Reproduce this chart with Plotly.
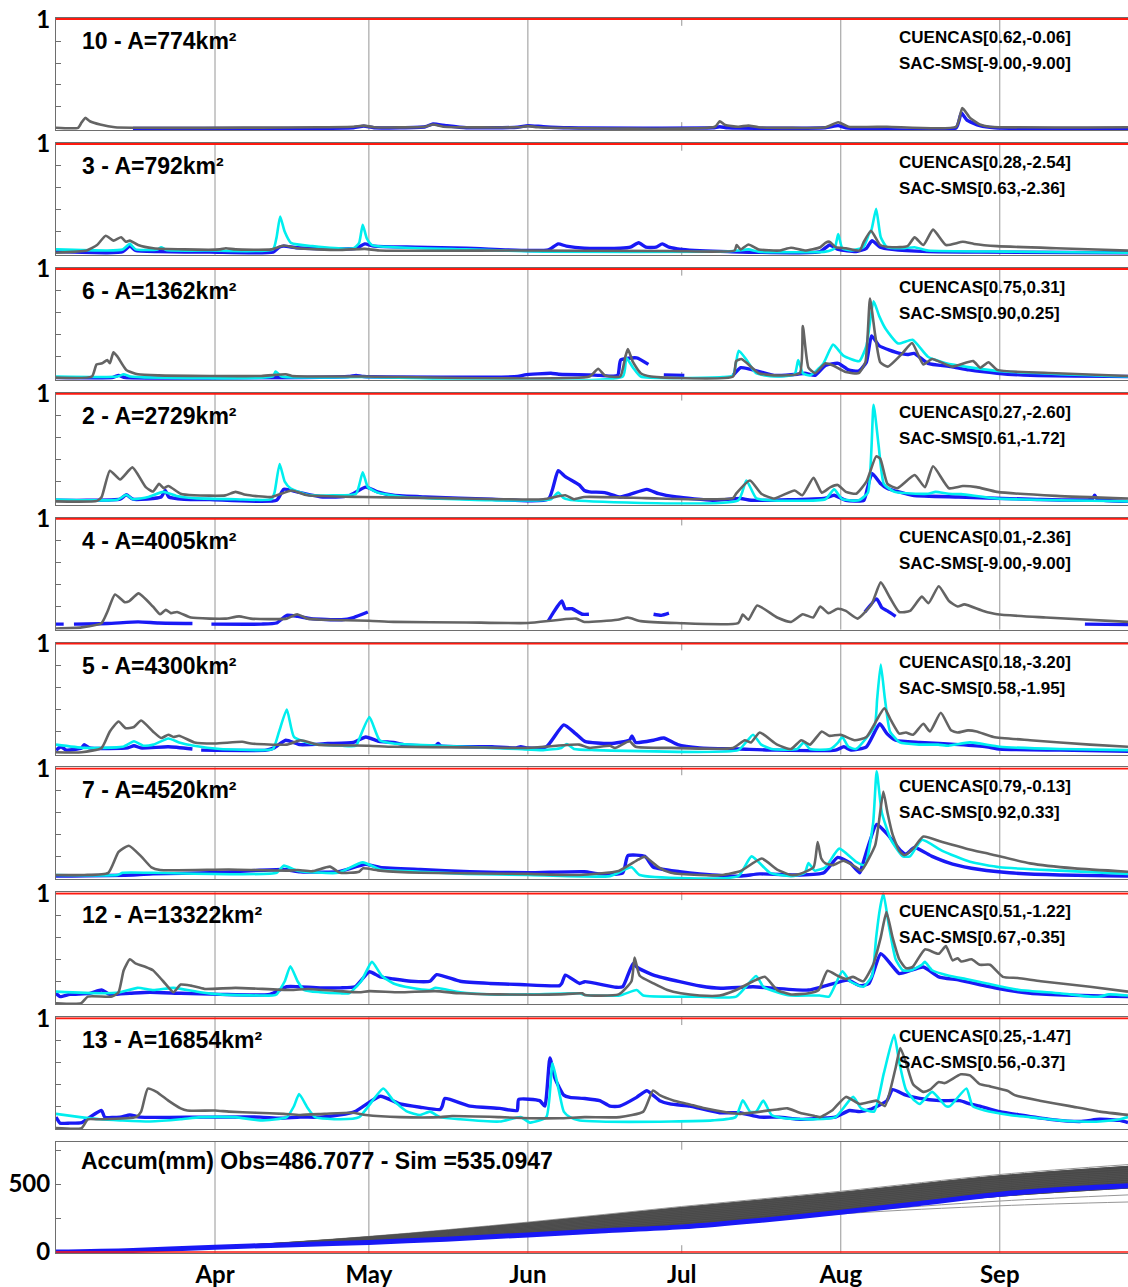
import pandas as pd
import plotly.graph_objects as go

# ---------------------------------------------------------------------------
# Data: normalised streamflow per basin; each series is (day since 1 March, value)
# None values mark gaps in the observed record.
# ---------------------------------------------------------------------------
START = pd.Timestamp("2010-03-01")
END_DAY = 209

STATIONS = [10, 3, 6, 2, 4, 5, 7, 12, 13]
AREAS_KM2 = [774, 792, 1362, 2729, 4005, 4300, 4520, 13322, 16854]
CUENCAS_SCORES = ["0.62,-0.06", "0.28,-2.54", "0.75,0.31", "0.27,-2.60", "0.01,-2.36",
                  "0.18,-3.20", "0.79,-0.13", "0.51,-1.22", "0.25,-1.47"]
SAC_SCORES = ["-9.00,-9.00", "0.63,-2.36", "0.90,0.25", "0.61,-1.72", "-9.00,-9.00",
              "0.58,-1.95", "0.92,0.33", "0.67,-0.35", "0.56,-0.37"]

MONTH_DAYS = [31, 61, 92, 122, 153, 184]
MONTH_LABELS = ["Apr", "May", "Jun", "Jul", "Aug", "Sep"]

# --- station 10 ---
GRAY_10 = [(0, 0.01), (4.3, 0.01), (5.0, 0.06), (5.7, 0.10), (6.6, 0.07), (8.6, 0.04), (11.5, 0.015),
           (40, 0.012), (51, 0.015), (58, 0.02), (60, 0.03), (62, 0.015), (72, 0.02), (73.5, 0.04),
           (75.5, 0.02), (90, 0.015), (92, 0.025), (94, 0.015), (128.5, 0.02), (129.4, 0.07),
           (130.5, 0.035), (133, 0.02), (135, 0.03), (137, 0.015), (150, 0.015), (152.5, 0.06),
           (154.5, 0.02), (162, 0.02), (175.5, 0.02), (176.7, 0.19), (178.2, 0.10), (180.1, 0.04),
           (182, 0.02), (209, 0.015)]
BLUE_10 = [(15, 0.005), (40, 0.005), (58, 0.01), (60, 0.025), (62, 0.01), (72, 0.02), (73.5, 0.045),
           (76, 0.03), (80, 0.01), (90, 0.015), (92, 0.03), (95, 0.02), (100, 0.01), (128, 0.01),
           (129.4, 0.02), (131, 0.01), (150, 0.01), (152.5, 0.03), (154, 0.01), (175.5, 0.01),
           (176.5, 0.145), (177.6, 0.08), (180.1, 0.03), (183, 0.01), (209, 0.005)]

# --- station 3 ---
GRAY_3 = [(0, 0.01), (6, 0.03), (8, 0.08), (9.7, 0.165), (11.2, 0.12), (12.7, 0.15), (13.6, 0.11),
          (14.4, 0.12), (16, 0.08), (19, 0.05), (25, 0.04), (32, 0.04), (33.1, 0.05), (35, 0.04),
          (42, 0.04), (44.4, 0.075), (47, 0.05), (55, 0.035), (60.2, 0.045), (63, 0.03), (90, 0.03),
          (120, 0.025), (132.3, 0.03), (132.7, 0.08), (133.5, 0.04), (135, 0.085), (137, 0.04),
          (141, 0.03), (143.3, 0.055), (146, 0.03), (149, 0.06), (150, 0.10), (150.8, 0.11),
          (152, 0.06), (154, 0.05), (156.7, 0.03), (157.4, 0.10), (158.9, 0.21), (160.7, 0.08),
          (163, 0.06), (166, 0.07), (167.4, 0.15), (169.1, 0.08), (171, 0.22), (173.5, 0.08),
          (176.8, 0.11), (179, 0.09), (183.5, 0.07), (195, 0.05), (209, 0.03)]
CYAN_3 = [(0, 0.04), (10, 0.03), (13, 0.04), (14.4, 0.09), (15.5, 0.04), (19.8, 0.04), (20.5, 0.06),
          (21.5, 0.035), (30, 0.03), (42.3, 0.04), (43.0, 0.15), (43.7, 0.34), (44.6, 0.2),
          (45.8, 0.10), (50, 0.07), (58, 0.05), (59.1, 0.10), (59.8, 0.265), (60.6, 0.14),
          (61.6, 0.08), (66, 0.06), (80, 0.04), (95, 0.02), (130, 0.02), (133, 0.03), (135, 0.04),
          (137, 0.02), (150, 0.02), (151.8, 0.05), (152.5, 0.18), (153.3, 0.05), (155, 0.03),
          (157.4, 0.06), (158.5, 0.18), (159, 0.22), (159.9, 0.41), (160.8, 0.15), (162, 0.06),
          (165, 0.05), (167.4, 0.06), (170, 0.03), (185, 0.02), (209, 0.01)]
BLUE_3 = [(0, 0.02), (10, 0.01), (13, 0.02), (14.4, 0.07), (15.5, 0.03), (20, 0.02), (30, 0.015),
          (42.3, 0.015), (43.5, 0.06), (44.4, 0.07), (47, 0.055), (55, 0.045), (58.5, 0.05),
          (60.2, 0.09), (62, 0.07), (70, 0.06), (80, 0.05), (92, 0.03), (96, 0.035), (97.9, 0.09),
          (99.5, 0.07), (103, 0.05), (110, 0.05), (112, 0.06), (113.6, 0.1), (115, 0.06), (117, 0.06),
          (118.2, 0.09), (119.5, 0.06), (122, 0.04), (131, 0.02), (149, 0.02), (150.8, 0.08),
          (152.5, 0.04), (156, 0.02), (158, 0.05), (159.1, 0.12), (160.7, 0.06), (163, 0.04),
          (170, 0.02), (180, 0.015), (209, 0.01)]

# --- station 6 ---
GRAY_6 = [(0, 0.01), (7, 0.02), (7.9, 0.13), (9, 0.14), (10, 0.17), (10.5, 0.14), (11.2, 0.24),
          (12, 0.2), (13.7, 0.08), (16, 0.04), (20, 0.03), (40, 0.025), (44.8, 0.04), (46, 0.025),
          (60, 0.02), (104, 0.02), (105.7, 0.09), (107, 0.03), (110, 0.02), (111, 0.2), (111.5, 0.27),
          (112.5, 0.15), (114, 0.05), (116, 0.02), (132, 0.02), (132.6, 0.16), (133.6, 0.18),
          (135, 0.13), (137, 0.05), (140, 0.03), (145, 0.05), (145.6, 0.48), (146.7, 0.1), (148, 0.05),
          (150, 0.14), (151.5, 0.12), (154, 0.06), (156.5, 0.05), (157.8, 0.15), (158.7, 0.73),
          (159.7, 0.4), (160.7, 0.15), (162.2, 0.11), (165, 0.23), (166.9, 0.325), (169.1, 0.13),
          (170.8, 0.18), (174.7, 0.11), (178.8, 0.16), (180.2, 0.1), (181.8, 0.15), (183.5, 0.08),
          (195, 0.05), (209, 0.025)]
CYAN_6 = [(0, 0.02), (12, 0.02), (13.2, 0.04), (14.5, 0.02), (42.3, 0.02), (42.8, 0.065), (44, 0.02),
          (60, 0.015), (110.5, 0.02), (111.2, 0.19), (112.5, 0.1), (114, 0.02), (130, 0.015),
          (132, 0.03), (133.1, 0.255), (134.5, 0.18), (136.5, 0.05), (140, 0.02), (144, 0.04),
          (144.7, 0.17), (145.6, 0.05), (147, 0.03), (149.5, 0.13), (151.5, 0.31), (153.5, 0.21),
          (156.6, 0.16), (158, 0.3), (159.4, 0.705), (160.5, 0.57), (161.8, 0.45), (164.2, 0.32),
          (167, 0.355), (170, 0.2), (173.5, 0.14), (183.5, 0.07), (209, 0.02)]
BLUE_6 = [(0, 0.01), (11, 0.01), (12.2, 0.03), (13.5, 0.01), (57, 0.02), (58.5, 0.03), (60, 0.02),
          (90, 0.02), (91.4, 0.035), (96.5, 0.05), (98, 0.04), (104, 0.035), (106, 0.03),
          (109.5, 0.03), (110.1, 0.17), (113.2, 0.19), (115.5, 0.13), (116, None), (118.5, 0.035),
          (122.5, 0.03), (127, None), (132, 0.03), (133.5, 0.1), (135, 0.09), (137.5, 0.06),
          (140, 0.03), (144.5, 0.04), (146, 0.05), (148, 0.03), (150, 0.12), (152.5, 0.14),
          (154.5, 0.08), (156.5, 0.07), (158, 0.15), (159, 0.39), (160.5, 0.3), (162.5, 0.26),
          (164.5, 0.23), (166, 0.22), (167.3, 0.23), (170, 0.14), (174.5, 0.11), (178, 0.08),
          (183.5, 0.05), (190, 0.03), (209, 0.02)]

# --- station 2 ---
GRAY_2 = [(0, 0.02), (8, 0.025), (8.9, 0.06), (10.5, 0.30), (12.5, 0.22), (14.9, 0.33), (17.5, 0.15),
          (18.9, 0.11), (20.1, 0.18), (21, 0.14), (21.9, 0.16), (24.3, 0.09), (26.9, 0.076),
          (33, 0.075), (35, 0.107), (37, 0.08), (42, 0.06), (46, 0.12), (49, 0.076), (60, 0.06),
          (75, 0.05), (95, 0.04), (99.3, 0.076), (101, 0.04), (103, 0.06), (115, 0.05), (125, 0.04),
          (132, 0.05), (132.6, 0.09), (135.3, 0.21), (137.5, 0.09), (140, 0.046), (144, 0.12),
          (145.5, 0.076), (147.7, 0.235), (149.3, 0.1), (151, 0.15), (152.4, 0.17), (154, 0.107),
          (156, 0.09), (158, 0.2), (159.9, 0.43), (160.7, 0.41), (162.1, 0.18), (164, 0.14),
          (167.4, 0.26), (169.4, 0.15), (171, 0.34), (174.1, 0.14), (176.8, 0.16), (179.5, 0.15),
          (183.5, 0.107), (195, 0.07), (209, 0.046)]
CYAN_2 = [(0, 0.037), (6, 0.03), (12, 0.035), (13.7, 0.08), (15, 0.04), (18, 0.06), (20.9, 0.107),
          (23.5, 0.07), (27, 0.05), (35, 0.04), (42, 0.04), (42.6, 0.1), (43.6, 0.36), (44.6, 0.2),
          (45.7, 0.14), (49, 0.08), (54, 0.076), (58.5, 0.09), (59.8, 0.285), (60.8, 0.15),
          (62.7, 0.1), (68, 0.06), (85, 0.03), (96.5, 0.04), (97.9, 0.1), (99, 0.05), (101, 0.03),
          (133, 0.03), (134.6, 0.21), (136.5, 0.05), (139, 0.03), (150, 0.04), (151.7, 0.13),
          (153.3, 0.04), (156.5, 0.03), (158.3, 0.1), (159.4, 0.9), (160.4, 0.52), (161.4, 0.18),
          (163.5, 0.107), (170, 0.09), (171.5, 0.107), (174, 0.09), (176.5, 0.086), (183.5, 0.046),
          (209, 0.02)]
BLUE_2 = [(0, 0.03), (6, 0.03), (12.5, 0.04), (13.7, 0.08), (15, 0.04), (20.5, 0.06), (21.3, 0.12),
          (22, 0.06), (25, 0.04), (30, 0.037), (43, 0.03), (44.4, 0.13), (47, 0.107), (52, 0.06),
          (57, 0.07), (60.4, 0.15), (62.7, 0.107), (65.8, 0.076), (72, 0.06), (85, 0.04), (96, 0.04),
          (97.9, 0.3), (99.3, 0.245), (102, 0.17), (103, 0.12), (104, 0.107), (107, 0.1), (110, 0.06),
          (115.2, 0.13), (117.5, 0.09), (121, 0.06), (128, 0.03), (133.5, 0.046), (135.5, 0.03),
          (150, 0.05), (151.7, 0.076), (154, 0.03), (157.5, 0.03), (158.2, 0.14), (159.1, 0.275),
          (160.8, 0.18), (162, 0.14), (167, 0.076), (176, 0.06), (190, 0.04), (202, 0.04),
          (202.5, 0.076), (203, 0.04), (209, 0.02)]

# --- station 4 ---
GRAY_4 = [(0, 0.0), (5, 0.01), (8.9, 0.05), (10, 0.15), (11.5, 0.31), (13.4, 0.24), (14.3, 0.25),
          (16.1, 0.32), (18.9, 0.2), (20.3, 0.13), (21.4, 0.17), (22.4, 0.14), (23.6, 0.15),
          (26.3, 0.1), (30, 0.09), (33, 0.09), (35.7, 0.11), (38, 0.09), (45, 0.09), (47, 0.13),
          (49, 0.09), (52, 0.08), (61, 0.07), (65.8, 0.06), (80, 0.055), (92, 0.05), (101.4, 0.09),
          (103, 0.06), (109.5, 0.08), (111.5, 0.1), (114, 0.067), (121, 0.05), (133, 0.05),
          (133.9, 0.127), (135, 0.08), (136.7, 0.21), (140.6, 0.1), (143.3, 0.06), (145.6, 0.13),
          (147.6, 0.1), (149, 0.2), (150.6, 0.14), (152.4, 0.18), (154, 0.16), (156.3, 0.09),
          (159, 0.22), (160.8, 0.42), (162.6, 0.28), (164.4, 0.15), (166.5, 0.16), (168.8, 0.29),
          (170.1, 0.23), (172.1, 0.385), (174.1, 0.25), (175.8, 0.2), (177.1, 0.22), (180.8, 0.16),
          (183.5, 0.13), (193, 0.1), (209, 0.06)]
BLUE_4 = [(0, 0.04), (1.5, 0.04), (2.5, None), (3.5, 0.04), (10, 0.045), (16, 0.06), (20, 0.05),
          (26.6, 0.045), (28, None), (30.3, 0.04), (40, 0.04), (43, 0.05), (45, 0.12), (47.1, 0.11),
          (49.7, 0.09), (55.7, 0.08), (58, 0.1), (60.8, 0.15), (70, None), (96, 0.07), (96.9, 0.14),
          (98.6, 0.25), (99.3, 0.18), (100.6, 0.18), (102.6, 0.13), (103.9, 0.13), (110, None),
          (116.5, 0.13), (118, 0.12), (119.5, 0.14), (130, None), (157.7, 0.15), (160, 0.27),
          (161, 0.19), (162.1, 0.16), (163.7, 0.11), (180, None), (200.6, 0.04), (209, 0.035)]

# --- station 5 ---
GRAY_5 = [(0, 0.01), (5, 0.01), (8.9, 0.05), (10.5, 0.2), (12.2, 0.29), (13.6, 0.23), (15.2, 0.24),
          (16.6, 0.30), (18.9, 0.2), (20.5, 0.14), (21.9, 0.17), (22.9, 0.15), (24, 0.16), (27, 0.1),
          (31, 0.09), (36.3, 0.106), (38, 0.09), (45, 0.08), (47.7, 0.12), (51, 0.08), (61, 0.07),
          (65.8, 0.06), (80, 0.055), (92, 0.05), (102, 0.08), (104, 0.05), (108, 0.07), (109, 0.05),
          (111.8, 0.11), (113, 0.06), (120, 0.05), (132, 0.05), (134.3, 0.12), (135.5, 0.1),
          (137.2, 0.19), (140.6, 0.08), (143.3, 0.04), (145.3, 0.12), (147, 0.08), (149.3, 0.2),
          (150.7, 0.16), (153, 0.17), (155.7, 0.12), (158, 0.15), (161.5, 0.41), (162.8, 0.3),
          (164.4, 0.18), (165.7, 0.19), (167.1, 0.17), (169.1, 0.27), (170.4, 0.2), (172.5, 0.37),
          (174.5, 0.21), (175.8, 0.19), (177.8, 0.21), (179.5, 0.2), (182.8, 0.15), (189.9, 0.12),
          (201.6, 0.08), (209, 0.06)]
CYAN_5 = [(0, 0.08), (5.5, 0.05), (13, 0.06), (15.2, 0.11), (17, 0.07), (19, 0.08), (21.9, 0.136),
          (24, 0.1), (26.9, 0.07), (32, 0.04), (40, 0.03), (42.3, 0.04), (43.5, 0.2), (45, 0.40),
          (46.4, 0.15), (49.7, 0.09), (55.8, 0.07), (58.5, 0.07), (59.1, 0.13), (61.1, 0.33),
          (63.1, 0.12), (65.8, 0.09), (75, 0.07), (90, 0.04), (95, 0.03), (98.5, 0.05),
          (99.6, 0.085), (101, 0.04), (105, 0.03), (133, 0.03), (134.5, 0.1), (135.9, 0.17),
          (137.5, 0.08), (139.5, 0.04), (144.5, 0.04), (145.8, 0.1), (147, 0.04), (151, 0.04),
          (152.5, 0.1), (153.3, 0.15), (154.5, 0.06), (156, 0.04), (159.6, 0.25), (160.1, 0.5),
          (160.8, 0.81), (161.6, 0.5), (162.6, 0.2), (164.5, 0.1), (168.4, 0.08), (172, 0.08),
          (174, 0.07), (178.2, 0.1), (184, 0.06), (195.7, 0.04), (209, 0.03)]
BLUE_5 = [(0, 0.03), (1, 0.06), (2, 0.03), (5, 0.05), (5.5, 0.08), (6.5, 0.05), (14, 0.05),
          (15.2, 0.07), (16.5, 0.05), (21.9, 0.06), (26.6, 0.04), (27.5, None), (28.3, 0.03),
          (41, 0.03), (42.5, 0.05), (44.8, 0.12), (47.6, 0.08), (53, 0.09), (58, 0.1), (60.4, 0.15),
          (63, 0.11), (65.8, 0.1), (67.8, 0.08), (74, 0.07), (74.5, 0.09), (75, 0.07), (85, 0.06),
          (89.5, 0.05), (90.6, 0.06), (92, 0.05), (95.6, 0.06), (99, 0.26), (101.3, 0.18),
          (103.1, 0.11), (108, 0.09), (111.8, 0.12), (112.3, 0.16), (113, 0.1), (116.5, 0.12),
          (118.5, 0.14), (121.2, 0.08), (125.5, 0.05), (133.3, 0.04), (140, 0.03), (152, 0.03),
          (153.6, 0.06), (155, 0.03), (158, 0.06), (160.6, 0.27), (162, 0.18), (163.7, 0.12),
          (168.4, 0.1), (176, 0.08), (181.4, 0.06), (184, 0.04), (195.7, 0.03), (209, 0.02)]

# --- station 7 ---
GRAY_7 = [(0, 0.03), (5.5, 0.03), (10.2, 0.05), (12.2, 0.24), (14.2, 0.297), (16.6, 0.2), (18.6, 0.1),
          (20.3, 0.076), (33.7, 0.08), (45, 0.07), (47.1, 0.075), (50, 0.065), (53.4, 0.106),
          (55.4, 0.05), (59.1, 0.06), (59.8, 0.09), (63.2, 0.07), (71, 0.05), (92, 0.04), (102, 0.03),
          (109.7, 0.067), (113.5, 0.17), (114.8, 0.197), (117.5, 0.1), (119.9, 0.05), (125.5, 0.03),
          (129.9, 0.03), (133.5, 0.067), (137.6, 0.18), (140.6, 0.08), (143.3, 0.03), (145, 0.04),
          (147.7, 0.1), (148.5, 0.33), (149.2, 0.18), (150, 0.136), (151.5, 0.12), (153.5, 0.16),
          (156, 0.1), (157, 0.07), (159.7, 0.3), (160.4, 0.5), (161.3, 0.79), (162.1, 0.6),
          (163.1, 0.4), (164.4, 0.25), (165.4, 0.21), (167.1, 0.27), (169.1, 0.38), (172.8, 0.33),
          (177.5, 0.27), (182.2, 0.22), (189.9, 0.136), (198.6, 0.09), (209, 0.06)]
CYAN_7 = [(0, 0.03), (12, 0.03), (13, 0.05), (18.9, 0.05), (43, 0.05), (44.4, 0.115), (47, 0.07),
          (55, 0.05), (59.8, 0.145), (63.2, 0.08), (71, 0.06), (80, 0.04), (92, 0.03), (108, 0.02),
          (112.2, 0.1), (113.8, 0.03), (133, 0.02), (135.6, 0.2), (139.2, 0.05), (143.3, 0.02),
          (146, 0.05), (146.7, 0.14), (147.9, 0.07), (150, 0.1), (152.7, 0.27), (156, 0.15),
          (157.7, 0.12), (159.3, 0.5), (160, 0.975), (161, 0.6), (162.8, 0.35), (165.1, 0.2),
          (166.5, 0.2), (168.8, 0.35), (172.8, 0.25), (178.2, 0.15), (184, 0.1), (195.7, 0.07),
          (209, 0.04)]
BLUE_7 = [(0, 0.02), (15, 0.03), (18.9, 0.04), (30, 0.05), (44.4, 0.08), (47.6, 0.06), (55, 0.06),
          (60.4, 0.127), (63.2, 0.1), (71, 0.08), (80.7, 0.06), (92, 0.05), (103, 0.06), (106, 0.04),
          (110.5, 0.05), (111.5, 0.206), (114.8, 0.2), (116.5, 0.1), (121.6, 0.06), (125.5, 0.04),
          (133.3, 0.02), (137.2, 0.04), (145, 0.03), (149.7, 0.05), (152.4, 0.19), (154.8, 0.14),
          (156.7, 0.05), (157.1, 0.1), (160, 0.49), (162.1, 0.4), (164.7, 0.25), (165.7, 0.22),
          (167.4, 0.28), (170.8, 0.2), (174.8, 0.13), (180.1, 0.08), (185.9, 0.05), (195.7, 0.03),
          (209, 0.02)]

# --- station 12 ---
GRAY_12 = [(0, 0.0), (4.9, 0.0), (6.2, 0.06), (10.9, 0.06), (12.2, 0.1), (13.2, 0.3), (14.4, 0.40),
           (15.6, 0.36), (17.5, 0.33), (18.9, 0.3), (20.9, 0.2), (22.9, 0.1), (24.3, 0.17),
           (26.3, 0.16), (29, 0.13), (35, 0.14), (45.7, 0.12), (49.1, 0.13), (55.4, 0.11),
           (59.1, 0.1), (61.1, 0.11), (67, 0.1), (73.9, 0.11), (78.8, 0.09), (86.5, 0.08),
           (98.2, 0.08), (102.6, 0.09), (103.1, 0.075), (109.7, 0.08), (112.2, 0.2), (112.8, 0.415),
           (113.8, 0.25), (116.5, 0.18), (119.2, 0.12), (121.8, 0.09), (125.5, 0.07), (129.4, 0.07),
           (132.6, 0.12), (135.9, 0.2), (138.2, 0.24), (140.6, 0.12), (143.3, 0.08), (146.7, 0.09),
           (148.7, 0.12), (150.4, 0.295), (152.4, 0.25), (154, 0.22), (155.4, 0.24), (157.4, 0.2),
           (159.3, 0.35), (160.8, 0.6), (161.9, 0.83), (163.1, 0.6), (164.4, 0.4), (165.7, 0.32),
           (167, 0.33), (169.4, 0.49), (172.1, 0.45), (173.5, 0.52), (174.8, 0.39), (175.8, 0.41),
           (176.5, 0.38), (178.5, 0.4), (180.1, 0.35), (182.1, 0.35), (184.6, 0.24), (187.5, 0.23),
           (192, 0.2), (201.6, 0.15), (209, 0.105)]
CYAN_12 = [(0, 0.105), (8.6, 0.09), (12.5, 0.1), (15.9, 0.14), (19, 0.12), (22.9, 0.14), (28.1, 0.1),
           (32, 0.08), (39.8, 0.07), (42.2, 0.07), (43, 0.08), (44.6, 0.2), (45.7, 0.337), (47.1, 0.2),
           (48.4, 0.12), (51.5, 0.1), (55.4, 0.09), (57.1, 0.09), (59.5, 0.2), (61.6, 0.376),
           (63.5, 0.25), (65.8, 0.18), (69.2, 0.14), (72.9, 0.12), (74, 0.14), (78.8, 0.1),
           (84.6, 0.08), (92.4, 0.08), (102.1, 0.09), (103.1, 0.075), (109.9, 0.07), (113.2, 0.12),
           (114.5, 0.07), (125.5, 0.06), (132.6, 0.06), (136.5, 0.247), (137.9, 0.15), (140.6, 0.1),
           (143.3, 0.07), (148.9, 0.07), (150.7, 0.06), (153.3, 0.29), (154.8, 0.2), (157.4, 0.15),
           (159.1, 0.25), (159.9, 0.6), (160.6, 0.85), (161.3, 1.0), (162.4, 0.7), (163.7, 0.4),
           (165.1, 0.3), (166.8, 0.3), (168.8, 0.35), (169.4, 0.376), (170.8, 0.3), (174.1, 0.25),
           (177.4, 0.22), (181.5, 0.18), (187.9, 0.12), (195.7, 0.09), (201.6, 0.06), (203.5, 0.06),
           (205.3, 0.08), (209, 0.07)]
BLUE_12 = [(0, 0.09), (0.8, 0.06), (2.7, 0.08), (6.6, 0.09), (8.9, 0.12), (10.5, 0.08), (14.4, 0.09),
           (18.3, 0.1), (24.3, 0.09), (32, 0.08), (41.7, 0.08), (45, 0.15), (47.1, 0.15),
           (51.5, 0.14), (55.4, 0.14), (58.3, 0.15), (61.1, 0.286), (63.2, 0.24), (65.8, 0.22),
           (69.2, 0.2), (72.9, 0.2), (74.2, 0.26), (78.8, 0.2), (84.6, 0.18), (90.4, 0.17),
           (98.2, 0.16), (98.6, 0.18), (99.3, 0.256), (102.1, 0.18), (103.1, 0.196), (109.2, 0.145),
           (110.5, 0.15), (112.5, 0.36), (113.5, 0.32), (116.5, 0.256), (121.6, 0.196),
           (125.6, 0.157), (129.6, 0.136), (135.9, 0.15), (140, 0.136), (146.7, 0.12), (150, 0.157),
           (154.4, 0.21), (156.7, 0.16), (158.5, 0.18), (160.8, 0.45), (163.3, 0.325), (164.4, 0.27),
           (169.1, 0.33), (172.1, 0.24), (176.1, 0.21), (183.5, 0.136), (190, 0.09), (196.7, 0.075),
           (203.5, 0.066), (209, 0.06)]

# --- station 13 ---
GRAY_13 = [(0, 0.0), (5, 0.0), (6.2, 0.08), (8.6, 0.08), (15.6, 0.1), (16.6, 0.15), (17.9, 0.36),
           (19.6, 0.33), (21.9, 0.25), (24.3, 0.18), (25.6, 0.16), (31, 0.16), (33.7, 0.15),
           (39, 0.14), (44.4, 0.13), (47.6, 0.12), (52.4, 0.13), (57.8, 0.14), (60.4, 0.12),
           (67.1, 0.1), (75, 0.1), (77.2, 0.11), (86.5, 0.1), (92.4, 0.09), (98.2, 0.09),
           (103.1, 0.1), (109.9, 0.1), (114.5, 0.15), (116.4, 0.343), (117.7, 0.3), (120.5, 0.25),
           (123.2, 0.22), (126.5, 0.18), (131.2, 0.14), (133.3, 0.13), (140.6, 0.17), (142.6, 0.18),
           (145, 0.14), (147.9, 0.11), (148.9, 0.1), (151.3, 0.16), (154, 0.284), (156.7, 0.22),
           (160, 0.25), (161.6, 0.2), (163.7, 0.55), (164.6, 0.73), (165.7, 0.6), (167.1, 0.4),
           (169.1, 0.33), (170.4, 0.35), (172.1, 0.42), (173.3, 0.41), (176.4, 0.49), (178.2, 0.48),
           (180.1, 0.4), (182.1, 0.38), (185.5, 0.34), (186.9, 0.3), (191.8, 0.25), (197.7, 0.2),
           (203.5, 0.15), (209, 0.12)]
CYAN_13 = [(0, 0.13), (4.7, 0.1), (8.6, 0.08), (12.5, 0.07), (18.3, 0.06), (24.3, 0.08), (28.1, 0.1),
           (35, 0.1), (39.8, 0.07), (45, 0.1), (46.4, 0.2), (47.4, 0.31), (49.1, 0.18), (50.5, 0.1),
           (55.4, 0.08), (59.1, 0.1), (63.8, 0.36), (65.8, 0.25), (68.5, 0.15), (71, 0.12),
           (72.9, 0.15), (74.9, 0.1), (78.8, 0.08), (86.5, 0.06), (90.6, 0.1), (92.4, 0.05),
           (95.6, 0.1), (96.8, 0.59), (98, 0.35), (99, 0.15), (100.2, 0.1), (102.1, 0.07),
           (106, 0.06), (120, 0.06), (128, 0.07), (132.5, 0.1), (133.9, 0.254), (135.3, 0.15),
           (136.5, 0.15), (137.9, 0.25), (139.5, 0.12), (142, 0.09), (148, 0.08), (152, 0.1),
           (155.4, 0.284), (157, 0.18), (159.5, 0.15), (161.4, 0.5), (163.4, 0.85), (164.4, 0.6),
           (165.7, 0.35), (167.4, 0.25), (168.4, 0.22), (170.8, 0.33), (173.5, 0.2), (174.3, 0.2),
           (177.5, 0.36), (178.7, 0.2), (181.1, 0.16), (185.9, 0.12), (191.8, 0.09), (195.7, 0.07),
           (199.6, 0.06), (203.5, 0.06), (207.4, 0.08), (209, 0.1)]
BLUE_13 = [(0, 0.1), (0.8, 0.045), (2.7, 0.045), (5, 0.05), (6.6, 0.1), (8.9, 0.16), (9.5, 0.1),
           (12.5, 0.1), (14.4, 0.12), (16.3, 0.1), (28.1, 0.1), (39.8, 0.1), (43.6, 0.09),
           (47.6, 0.1), (51.5, 0.1), (55.4, 0.12), (58.3, 0.15), (63.2, 0.29), (67.1, 0.22),
           (71, 0.19), (74.9, 0.17), (75.3, 0.2), (75.8, 0.27), (80.7, 0.2), (86.5, 0.18),
           (89.9, 0.16), (90.2, 0.26), (94.3, 0.25), (95.3, 0.2), (96.3, 0.64), (97.3, 0.45),
           (99, 0.3), (100.2, 0.28), (103.1, 0.27), (106, 0.25), (108, 0.2), (109.9, 0.2),
           (113.2, 0.28), (115.2, 0.34), (117.7, 0.25), (119.7, 0.22), (123.6, 0.2), (125.5, 0.18),
           (129.4, 0.14), (133.3, 0.14), (137.2, 0.1), (141, 0.1), (145, 0.08), (148.9, 0.09),
           (151.9, 0.1), (154.7, 0.16), (156.7, 0.15), (158.7, 0.17), (162, 0.25), (163.1, 0.35),
           (165.7, 0.3), (168.4, 0.27), (172.3, 0.25), (176.2, 0.25), (178.2, 0.22), (180.1, 0.2),
           (184, 0.15), (187.9, 0.12), (193.8, 0.08), (199.6, 0.06), (203.5, 0.08), (207.4, 0.07),
           (209, 0.05)]

# --- accumulated runoff (mm) ---
ACC_DAYS = [0, 31, 61, 92, 122, 153, 184, 209]
ENSEMBLE_ACCUM = [
    [0, 40, 115, 220, 335, 447, 570, 643],
    [0, 39, 112, 214, 327, 438, 560, 630],
    [0, 39, 110, 208, 318, 428, 548, 615],
    [0, 38, 106, 200, 306, 414, 532, 598],
    [0, 38, 102, 192, 295, 400, 518, 584],
    [0, 37, 98, 183, 283, 386, 505, 572],
    [0, 37, 94, 174, 270, 372, 492, 560],
    [0, 36, 90, 165, 257, 360, 480, 548],
    [0, 36, 86, 156, 245, 348, 466, 535],
    [0, 35, 82, 147, 232, 335, 452, 520],
    [0, 35, 78, 138, 218, 322, 438, 505],
    [0, 34, 74, 130, 200, 306, 410, 470],
    [0, 34, 71, 124, 186, 292, 375, 420],
    [0, 33, 68, 118, 178, 280, 340, 368],
]
OBS_ACC_DAYS = [0, 15, 31, 45, 61, 76, 92, 106, 122, 137, 153, 168, 184, 198, 209]
OBS_ACCUM = [0, 12, 36, 52, 71, 95, 126, 155, 185, 232, 293, 355, 425, 465, 487]

# ---------------------------------------------------------------------------
GRAY_SERIES = [GRAY_10, GRAY_3, GRAY_6, GRAY_2, GRAY_4, GRAY_5, GRAY_7, GRAY_12, GRAY_13]
CYAN_SERIES = [None, CYAN_3, CYAN_6, CYAN_2, None, CYAN_5, CYAN_7, CYAN_12, CYAN_13]
BLUE_SERIES = [BLUE_10, BLUE_3, BLUE_6, BLUE_2, BLUE_4, BLUE_5, BLUE_7, BLUE_12, BLUE_13]

C_GRAY = "rgb(100,100,100)"
C_CYAN = "rgb(0,238,238)"
C_BLUE = "rgb(25,25,245)"
C_RED = "rgb(255,25,15)"
C_FRAME = "rgb(110,110,110)"
C_GRID = "rgb(150,150,150)"
TICK_FONT = dict(family="Lato", size=24, color="black", weight="bold")

W, H = 1128, 1287
PANEL_TOP0, PITCH, PANEL_H = 18.0, 124.9, 112.0
ACC_TOP, ACC_H = 1142.0, 111.0
SMOOTH = 0.5


def day_to_date(d):
    return START + pd.Timedelta(days=d)


def split(series):
    return [day_to_date(d) for d, _ in series], [v for _, v in series]


def px_y(px):
    return 1 - px / H


def px_x(px):
    return (px - 56) / (W - 56)


fig = go.Figure()
layout = dict(width=W, height=H, margin=dict(l=56, r=0, t=0, b=0, autoexpand=False),
              paper_bgcolor="white", plot_bgcolor="white", showlegend=False)
shapes, annotations = [], []
x_range = [day_to_date(0), day_to_date(END_DAY)]
grid_days = [d for d, m in zip(MONTH_DAYS, MONTH_LABELS) if m != "Jul"]
jul_day = MONTH_DAYS[MONTH_LABELS.index("Jul")]

for i in range(10):
    sfx = "" if i == 0 else str(i + 1)
    xr, yr = "x" + sfx, "y" + sfx
    if i < 9:
        top, h = PANEL_TOP0 + PITCH * i, PANEL_H
    else:
        top, h = ACC_TOP, ACC_H
    dom = [px_y(top + h), px_y(top)]

    xaxis = dict(
        domain=[0, 1], anchor=yr, type="date", range=x_range, showgrid=False, automargin=False,
        zeroline=False, showline=True, linecolor=C_FRAME, linewidth=1, mirror=True, ticks="")
    if i == 9:
        xaxis.update(showticklabels=True, tickvals=[day_to_date(d) for d in MONTH_DAYS],
                     ticktext=MONTH_LABELS, tickfont=TICK_FONT)
    else:
        xaxis.update(showticklabels=False)
    layout["xaxis" + sfx] = xaxis

    if i < 9:
        layout["yaxis" + sfx] = dict(
            domain=dom, anchor=xr, range=[-0.01, 1.01], showgrid=False, zeroline=False,
            automargin=False, showline=True, linecolor=C_FRAME, linewidth=1, mirror=False,
            ticks="inside", ticklen=5, tickcolor=C_FRAME, tickvals=[1.0], ticktext=["1"],
            tickfont=TICK_FONT,
            minor=dict(tickvals=[0.2, 0.4, 0.6, 0.8], ticks="inside", ticklen=5,
                       tickcolor=C_FRAME, showgrid=False))

        bx, by = split(BLUE_SERIES[i])
        fig.add_trace(go.Scatter(x=bx, y=by, xaxis=xr, yaxis=yr, mode="lines",
                                 line=dict(color=C_BLUE, width=3.4, shape="spline", smoothing=SMOOTH),
                                 connectgaps=False))
        if CYAN_SERIES[i] is not None:
            cx, cy = split(CYAN_SERIES[i])
            fig.add_trace(go.Scatter(x=cx, y=cy, xaxis=xr, yaxis=yr, mode="lines",
                                     line=dict(color=C_CYAN, width=2.6, shape="spline",
                                               smoothing=SMOOTH)))
        gx, gy = split(GRAY_SERIES[i])
        fig.add_trace(go.Scatter(x=gx, y=gy, xaxis=xr, yaxis=yr, mode="lines",
                                 line=dict(color=C_GRAY, width=2.6, shape="spline",
                                           smoothing=SMOOTH)))

        shapes.append(dict(type="line", xref=xr + " domain", yref=yr, x0=0, x1=1, y0=1, y1=1,
                           line=dict(color=C_RED, width=2), layer="above"))
        annotations.append(dict(
            text=f"<b>{STATIONS[i]} - A={AREAS_KM2[i]}km²</b>", xref="paper", yref="paper",
            x=px_x(80), y=px_y(top + 23), xanchor="left", yanchor="middle", showarrow=False,
            font=dict(family="Liberation Sans", size=23, color="black")))
        annotations.append(dict(
            text=f"<b>CUENCAS[{CUENCAS_SCORES[i]}]</b>", xref="paper", yref="paper",
            x=px_x(897), y=px_y(top + 19.5), xanchor="left", yanchor="middle", showarrow=False,
            font=dict(family="Liberation Sans", size=17, color="black")))
        annotations.append(dict(
            text=f"<b>SAC-SMS[{SAC_SCORES[i]}]</b>", xref="paper", yref="paper",
            x=px_x(897), y=px_y(top + 45.5), xanchor="left", yanchor="middle", showarrow=False,
            font=dict(family="Liberation Sans", size=17, color="black")))
    else:
        layout["yaxis" + sfx] = dict(
            domain=dom, anchor=xr, range=[-7, 809], showgrid=False, zeroline=False,
            automargin=False, showline=True, linecolor=C_FRAME, linewidth=1, mirror=False,
            ticks="inside", ticklen=5, tickcolor=C_FRAME,
            tickvals=[0, 500], ticktext=["0", "500"], tickfont=TICK_FONT,
            minor=dict(tickvals=[250, 750], ticks="inside", ticklen=5,
                       tickcolor=C_FRAME, showgrid=False))

        acc_x = [day_to_date(d) for d in ACC_DAYS]
        core_lo, core_hi = ENSEMBLE_ACCUM[11], ENSEMBLE_ACCUM[1]
        fig.add_trace(go.Scatter(x=acc_x, y=core_lo, xaxis=xr, yaxis=yr, mode="lines",
                                 line=dict(color="rgb(72,72,72)", width=1, shape="spline")))
        fig.add_trace(go.Scatter(x=acc_x, y=core_hi, xaxis=xr, yaxis=yr, mode="lines",
                                 fill="tonexty", fillcolor="rgb(72,72,72)",
                                 line=dict(color="rgb(72,72,72)", width=1, shape="spline")))
        for k, member in enumerate(ENSEMBLE_ACCUM):
            outer = k in (0, 12, 13)
            fig.add_trace(go.Scatter(
                x=acc_x, y=member, xaxis=xr, yaxis=yr, mode="lines",
                line=dict(color="rgb(150,150,150)" if outer else "rgb(80,80,80)",
                          width=1, shape="spline")))
        fig.add_trace(go.Scatter(x=[day_to_date(d) for d in OBS_ACC_DAYS], y=OBS_ACCUM,
                                 xaxis=xr, yaxis=yr, mode="lines",
                                 line=dict(color=C_BLUE, width=5, shape="spline")))
        shapes.append(dict(type="line", xref=xr + " domain", yref=yr, x0=0, x1=1, y0=0, y1=0,
                           line=dict(color=C_RED, width=1.5), layer="above"))
        annotations.append(dict(
            text="<b>Accum(mm) Obs=486.7077 - Sim =535.0947</b>", xref="paper", yref="paper",
            x=px_x(79), y=px_y(1161), xanchor="left", yanchor="middle", showarrow=False,
            font=dict(family="Liberation Sans", size=23, color="black")))

    # month grid lines (July only gets short tick marks)
    for d in grid_days:
        shapes.append(dict(type="line", xref=xr, yref=yr + " domain",
                           x0=day_to_date(d), x1=day_to_date(d), y0=0, y1=1,
                           line=dict(color=C_GRID, width=1), layer="below"))
    for y0, y1 in ((0.93, 1.0), (0.0, 0.07)):
        shapes.append(dict(type="line", xref=xr, yref=yr + " domain",
                           x0=day_to_date(jul_day), x1=day_to_date(jul_day), y0=y0, y1=y1,
                           line=dict(color=C_GRID, width=1), layer="below"))

layout["shapes"] = shapes
layout["annotations"] = annotations
fig.update_layout(**layout)
fig.write_html("out.html")
